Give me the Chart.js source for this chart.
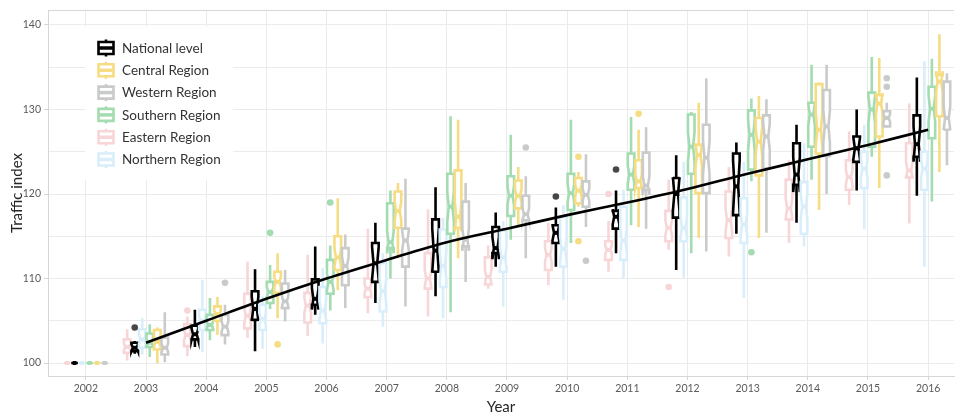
<!DOCTYPE html>
<html>
<head>
<meta charset="utf-8">
<script src="https://cdn.jsdelivr.net/npm/chart.js@4"></script>
<style>
html,body{margin:0;padding:0;background:#fff;overflow:hidden}
#wrap{width:958px;height:412px;position:relative}
</style>
</head>
<body>
<div id="wrap"><canvas id="c"></canvas></div>
<script>
// ---------------- DATA ----------------
const years = [2002,2003,2004,2005,2006,2007,2008,2009,2010,2011,2012,2013,2014,2015,2016];
const seriesNames = ['National level','Central Region','Western Region','Southern Region','Eastern Region','Northern Region'];
const yTickLabels = ['100','110','120','130','140'];

// per year: [lower whisker, Q1, median, Q3, upper whisker]
const nationalStats = [
  [100,100,100,100,100],[101.1,101.4,101.8,102.4,102.6],[101.9,102.8,103.4,104.4,106.3],
  [101.4,105.1,106.4,108.5,111.1],[105.7,106.9,107.6,109.9,113.8],[107.1,109.6,111.8,114.2,116.6],
  [107.9,110.8,113.3,117.0,120.8],[111.4,113.0,113.6,116.1,117.8],[111.4,114.2,115.4,116.3,118.4],
  [113.0,115.9,117.3,118.0,120.4],[111.0,117.2,120.0,121.9,124.6],[115.3,117.5,120.9,124.8,126.1],
  [116.6,121.1,122.3,126.0,128.2],[120.4,123.8,125.4,126.8,130.0],[119.8,124.4,125.9,129.3,133.8]
];
const centralStats = [
  [100,100,100,100,100],[100.0,101.6,102.5,103.9,104.2],[103.3,105.0,105.8,106.7,107.8],
  [105.3,108.3,109.6,110.8,113.0],[108.6,111.0,112.5,115.0,119.5],[112.4,116.0,118.0,120.3,121.3],
  [112.4,116.0,117.3,122.8,128.8],[116.3,118.3,119.8,121.6,123.2],[118.5,118.9,120.4,121.9,122.6],
  [116.1,120.7,121.5,124.0,127.6],[114.8,120.1,124.6,125.8,130.8],[114.8,122.2,126.2,129.0,131.6],
  [118.1,124.8,127.6,133.0,133.2],[120.7,126.8,130.7,131.7,136.1],[122.6,129.2,133.3,134.1,138.9]
];
const westernStats = [
  [100,100,100,100,100],[100.1,101.0,101.8,103.0,106.0],[102.2,103.3,104.3,105.7,106.9],
  [104.9,106.5,107.3,109.4,111.0],[106.5,109.2,111.5,113.6,115.2],[106.7,111.4,114.5,115.9,121.8],
  [109.6,113.8,114.6,119.1,121.3],[112.4,116.9,117.6,119.8,122.1],[116.1,118.5,119.9,121.5,124.7],
  [115.9,120.5,121.0,124.9,127.9],[113.2,120.1,124.3,128.2,133.7],[115.4,123.0,126.8,129.3,131.2],
  [120.0,124.5,128.0,132.3,135.3],[127.9,128.0,129.0,129.8,130.8],[123.4,127.6,129.0,133.3,134.3]
];
const southernStats = [
  [100,100,100,100,100],[100.7,101.9,102.4,103.5,104.6],[102.7,103.9,104.5,105.7,107.7],
  [106.4,107.1,108.4,109.6,111.6],[106.2,108.2,109.6,112.2,113.9],[110.0,113.6,114.3,118.9,120.4],
  [106.0,115.3,118.5,122.4,129.2],[114.6,117.4,119.8,122.1,127.0],[114.2,118.1,120.1,122.4,128.8],
  [116.3,120.5,122.3,124.8,129.1],[113.0,122.4,125.6,129.4,129.7],[121.5,122.9,127.0,129.9,131.3],
  [121.7,125.6,129.4,130.8,135.3],[124.4,125.6,130.0,132.0,136.2],[119.1,126.6,130.1,132.7,136.0]
];
const easternStats = [
  [100,100,100,100,100],[100.3,101.2,101.9,102.8,104.0],[100.8,102.0,103.3,104.6,105.5],
  [103.0,104.1,105.6,108.2,112.0],[103.2,104.8,106.8,108.3,112.8],[105.9,107.8,108.8,110.0,115.9],
  [105.5,108.8,110.0,113.0,118.2],[108.8,109.3,110.2,112.5,113.9],[109.2,111.0,112.8,114.4,116.6],
  [110.8,112.2,113.4,114.4,116.8],[113.4,114.4,116.0,118.0,121.7],[112.6,114.8,116.9,120.3,123.2],
  [114.2,117.0,118.3,121.7,124.0],[118.7,120.5,122.0,124.0,127.4],[116.5,122.0,122.8,126.0,130.7]
];
const northernStats = [
  [100,100,100,100,100],[101.0,101.8,102.8,104.0,105.3],[101.3,103.9,105.0,106.3,109.8],
  [101.7,103.9,105.2,106.9,107.9],[102.3,104.7,106.2,109.0,111.2],[104.3,106.1,108.5,111.8,113.0],
  [105.3,109.0,111.5,115.8,117.2],[106.7,110.8,112.5,115.7,116.8],[107.5,111.4,113.5,117.3,118.7],
  [110.0,112.2,114.5,118.5,120.5],[110.1,114.4,116.0,119.6,123.8],[107.7,114.2,116.4,119.5,123.8],
  [113.8,115.3,118.5,121.4,126.0],[115.9,120.7,123.0,125.0,128.2],[111.4,120.5,123.0,125.0,135.7]
];

// sample sizes (used for the notches)
const sampleSizes = [14, 40, 40, 40, 40, 40];

// outliers: [year, value]
const nationalOutliers = [[2003,104.2],[2010,119.7],[2011,122.9]];
const centralOutliers  = [[2005,102.2],[2010,124.4],[2010,114.4],[2011,129.5]];
const westernOutliers  = [[2004,109.5],[2009,125.5],[2010,112.1],[2015,133.7],[2015,132.7],[2015,122.2]];
const southernOutliers = [[2005,115.4],[2006,119.0],[2013,113.1]];
const easternOutliers  = [[2004,106.2],[2011,120.0],[2012,109.0]];
const northernOutliers = [];

// smooth national trend
const trendYears  = [2003,2004,2005,2006,2007,2008,2009,2010,2011,2012,2013,2014,2015,2016];
const trendValues = [102.4,105.0,107.6,110.0,112.2,114.3,115.9,117.5,119.0,120.6,122.4,124.1,125.8,127.6];

// ---------------- STYLE ----------------
const seriesColors = ['#000000','#F6DC82','#C9CBCB','#A3DCB1','#F8D6D8','#D9EEFB'];
const outlierColors = ['rgba(0,0,0,0.72)','#F6DC82','#C9CBCB','#A3DCB1','#F8D6D8','#D9EEFB'];
const slots = [-1.5, 1.5, 2.5, 0.5, -2.5, -0.5]; // dodge position within year
const DODGE = 0.125, BOX_W = 0.11;
const FONT = 'Lato, "Open Sans", sans-serif';

const allStats = [nationalStats, centralStats, westernStats, southernStats, easternStats, northernStats];
const allOutliers = [nationalOutliers, centralOutliers, westernOutliers, southernOutliers, easternOutliers, northernOutliers];

const outlierDatasets = allOutliers.map((arr, s) => ({
  type: 'scatter',
  label: seriesNames[s] + ' outliers',
  data: arr.map(([yr, v]) => ({x: yr + slots[s]*DODGE, y: v})),
  pointRadius: 3.3,
  pointBackgroundColor: outlierColors[s],
  pointBorderWidth: 0,
  showLine: false
}));

const drawOrder = [4, 0, 5, 3, 1, 2];

const boxPlugin = {
  id: 'boxes',
  beforeDatasetsDraw(chart) {
    const {ctx, chartArea: ca, scales: {x, y}} = chart;
    ctx.save();
    ctx.strokeStyle = '#D6D6D6'; ctx.lineWidth = 1;
    ctx.beginPath(); ctx.moveTo(ca.left, ca.top + 0.5); ctx.lineTo(ca.right, ca.top + 0.5); ctx.stroke();
    ctx.beginPath(); ctx.rect(ca.left, ca.top, ca.width, ca.height); ctx.clip();
    drawOrder.forEach(s => {
      const col = seriesColors[s];
      allStats[s].forEach((st, i) => {
        const [lo, q1, med, q3, hi] = st;
        const xv = years[i] + slots[s]*DODGE;
        const xc = x.getPixelForValue(xv);
        const x0 = x.getPixelForValue(xv - BOX_W/2), x1 = x.getPixelForValue(xv + BOX_W/2);
        const ind = (x1 - x0) * 0.22;
        const notch = 1.58 * (q3 - q1) / Math.sqrt(sampleSizes[s]);
        const pQ1 = y.getPixelForValue(q1), pQ3 = y.getPixelForValue(q3);
        const pMed = y.getPixelForValue(med);
        const pNl = y.getPixelForValue(med - notch), pNu = y.getPixelForValue(med + notch);
        ctx.strokeStyle = col; ctx.lineWidth = 2.6; ctx.lineCap = 'butt'; ctx.lineJoin = 'miter';
        ctx.beginPath();
        ctx.moveTo(xc, pQ3); ctx.lineTo(xc, y.getPixelForValue(hi));
        ctx.moveTo(xc, pQ1); ctx.lineTo(xc, y.getPixelForValue(lo));
        ctx.stroke();
        ctx.beginPath();
        ctx.moveTo(x0, pQ3); ctx.lineTo(x0, pNu); ctx.lineTo(x0 + ind, pMed); ctx.lineTo(x0, pNl); ctx.lineTo(x0, pQ1);
        ctx.lineTo(x1, pQ1); ctx.lineTo(x1, pNl); ctx.lineTo(x1 - ind, pMed); ctx.lineTo(x1, pNu); ctx.lineTo(x1, pQ3);
        ctx.closePath();
        ctx.fillStyle = '#ffffff'; ctx.fill(); ctx.stroke();
        ctx.lineWidth = 4;
        ctx.beginPath(); ctx.moveTo(x0 + ind, pMed); ctx.lineTo(x1 - ind, pMed); ctx.stroke();
      });
    });
    ctx.restore();
  },
  afterDatasetsDraw(chart) {
    const ctx = chart.ctx;
    ctx.save();
    ctx.fillStyle = '#ffffff';
    ctx.fillRect(85, 27, 148, 153);
    seriesNames.forEach((name, s) => {
      const cy = 48 + s * 22.3, cx = 106;
      const col = seriesColors[s];
      ctx.strokeStyle = col; ctx.lineWidth = 2.6;
      ctx.beginPath(); ctx.moveTo(cx, cy - 8.5); ctx.lineTo(cx, cy + 8.5); ctx.stroke();
      ctx.fillStyle = '#fff';
      ctx.beginPath(); ctx.rect(cx - 7.5, cy - 6, 15, 12); ctx.fill(); ctx.stroke();
      ctx.lineWidth = 3.5;
      ctx.beginPath(); ctx.moveTo(cx - 7.5, cy); ctx.lineTo(cx + 7.5, cy); ctx.stroke();
      ctx.fillStyle = '#333333';
      ctx.font = '13.5px ' + FONT;
      ctx.textBaseline = 'middle'; ctx.textAlign = 'left';
      ctx.fillText(name, 122, cy + 0.5);
    });
    ctx.restore();
  }
};

new Chart(document.getElementById('c'), {
  type: 'line',
  data: {
    datasets: [
      {
        type: 'line',
        label: 'Trend',
        data: trendYears.map((yr, i) => ({x: yr, y: trendValues[i]})),
        borderColor: '#000000',
        borderWidth: 2.6,
        pointRadius: 0,
        cubicInterpolationMode: 'monotone',
        fill: false
      },
      ...outlierDatasets
    ]
  },
  options: {
    responsive: true,
    maintainAspectRatio: false,
    animation: false,
    devicePixelRatio: 1,
    layout: {padding: {top: 10, right: 0, left: 0, bottom: 0}},
    plugins: {legend: {display: false}, tooltip: {enabled: false}},
    scales: {
      x: {
        type: 'linear',
        min: 2001.371, max: 2016.43,
        afterFit: s => { s.height = 36; },
        border: {color: '#D6D6D6'},
        grid: {color: '#EBEBEB', tickLength: 4, tickColor: '#D6D6D6'},
        ticks: {
          stepSize: 1, includeBounds: false, autoSkip: false, maxRotation: 0,
          color: '#5A5A5A', font: {family: FONT, size: 10.5}, padding: 2,
          callback: v => (years.includes(v) ? String(v) : '')
        },
        title: {display: true, text: 'Year', color: '#262626', font: {family: FONT, size: 15}, padding: {top: 0, bottom: -4}}
      },
      y: {
        type: 'linear',
        min: 98.462, max: 141.775,
        afterFit: s => { s.width = 48; },
        border: {color: '#D6D6D6'},
        grid: {
          color: '#EBEBEB', tickLength: 4,
          tickColor: c => (c.tick && yTickLabels.includes(String(c.tick.value)) ? '#D6D6D6' : 'rgba(0,0,0,0)')
        },
        ticks: {
          stepSize: 5, includeBounds: false,
          color: '#5A5A5A', font: {family: FONT, size: 10.5}, padding: 3,
          callback: v => (yTickLabels.includes(String(v)) ? String(v) : '')
        },
        title: {display: true, text: 'Traffic index', color: '#262626', font: {family: FONT, size: 15}, padding: {top: 8, bottom: 0}}
      }
    }
  },
  plugins: [boxPlugin]
});
</script>
</body>
</html>
